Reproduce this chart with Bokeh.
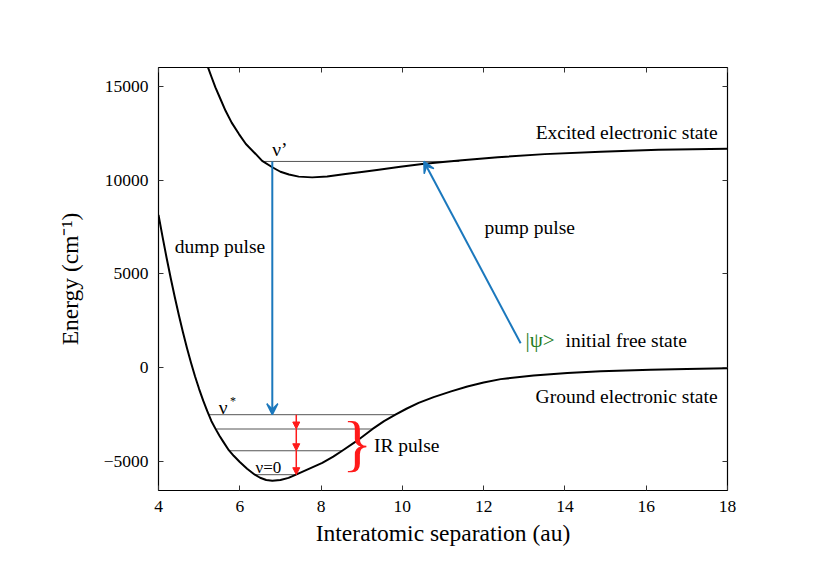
from bokeh.plotting import figure
from bokeh.models import LinearAxis, FixedTicker, Arrow, VeeHead, NormalHead, ColumnDataSource, Range1d
from bokeh.core.properties import value
from bokeh.embed import file_html
from bokeh.resources import INLINE

# ---- data ----
ground_r = [4.00, 4.10, 4.20, 4.30, 4.40, 4.50, 4.60, 4.70, 4.80, 4.90, 5.00, 5.10, 5.20,
            5.30, 5.40, 5.50, 5.60, 5.73, 5.85, 6.00, 6.18, 6.37, 6.50, 6.65, 6.80,
            7.00, 7.20, 7.37, 7.70, 8.03, 8.30, 8.52, 8.87, 9.26, 9.55, 9.83, 10.10,
            10.40, 10.77, 11.20, 11.60, 12.00, 12.42, 13.23, 14.06, 14.88, 15.50,
            16.11, 17.00, 18.00]
ground_e = [8150, 6980, 5850, 4780, 3770, 2810, 1900, 1050, 260, -470, -1140, -1760, -2320,
            -2840, -3250, -3630, -3970, -4400, -4700, -5030, -5390, -5707, -5870, -5990, -6030,
            -5990, -5875, -5715, -5400, -5080, -4745, -4430, -3920, -3280, -2850, -2507, -2190,
            -1880, -1570, -1265, -1000, -790, -610, -420, -285, -195, -145,
            -105, -65, -35]

excited_r = [5.15, 5.22, 5.30, 5.40, 5.50, 5.65, 5.80, 5.98, 6.15, 6.39, 6.55, 6.80, 7.00,
             7.21, 7.45, 7.78, 8.15, 8.60, 9.00, 9.42, 9.95, 10.49, 11.00, 11.47, 12.35,
             13.50, 14.88, 16.30, 18.00]
excited_e = [16430, 16000, 15530, 14950, 14450, 13700, 13070, 12460, 11930, 11400, 11030, 10690, 10450,
             10300, 10190, 10150, 10200, 10330, 10440, 10560, 10715, 10860, 10965, 11060, 11220,
             11390, 11520, 11620, 11680]

levels_e = [-2507, -3270, -4430, -5707]
levels_r0 = [5.23, 5.41, 5.73, 6.37]
levels_r1 = [9.83, 9.26, 8.52, 7.37]

vprime_e = [11000]
vprime_r0 = [6.55]
vprime_r1 = [11.40]

dump_r = [6.80, 6.80]
dump_e = [11000, -2507]
pump_r = [12.91, 10.53]
pump_e = [1300, 11000]

ir_r = [7.39, 7.39, 7.39]
ir_e_start = [-2507, -3270, -4430]
ir_e_end = [-3270, -4430, -5707]

x_ticks = [4, 6, 8, 10, 12, 14, 16, 18]
y_ticks = [-5000, 0, 5000, 10000, 15000]
y_tick_labels = {-5000: "\u22125000", 0: "0", 5000: "5000", 10000: "10000", 15000: "15000"}

SERIF = "Liberation Serif"
BLUE = "#1b78bd"
RED = "#ff1a1a"
GREEN = "#1e7b1e"
GRAY = "#555555"

p = figure(width=830, height=587, x_range=Range1d(4, 18), y_range=Range1d(-6550, 16010),
           output_backend="svg", toolbar_location=None,
           min_border_left=158, min_border_right=103, min_border_top=67, min_border_bottom=97)
p.grid.visible = False
p.background_fill_color = "white"
p.border_fill_color = "white"
p.outline_line_color = "black"
p.outline_line_width = 1.2

for ax, tk in ((p.xaxis[0], x_ticks), (p.yaxis[0], y_ticks)):
    ax.ticker = FixedTicker(ticks=tk)
    ax.major_tick_in = 5
    ax.major_tick_out = 0
    ax.minor_tick_line_color = None
    ax.axis_line_color = None
    ax.major_tick_line_color = "#333333"
    ax.major_label_text_font = SERIF
    ax.major_label_text_font_size = "17.5px"
    ax.major_label_text_color = "black"
    ax.axis_label_text_font = SERIF
    ax.axis_label_text_font_size = "23.5px"
    ax.axis_label_text_font_style = "normal"
    ax.axis_label_text_color = "black"

p.xaxis.axis_label = "Interatomic separation (au)"
p.yaxis.axis_label = "Energy (cm\u207b\u00b9)"
p.yaxis.major_label_overrides = y_tick_labels
p.xaxis.major_label_standoff = 10
p.yaxis.major_label_standoff = 10
p.xaxis.axis_label_standoff = 5
p.yaxis.axis_label_standoff = 18

top_ax = LinearAxis(ticker=FixedTicker(ticks=x_ticks), major_tick_in=5, major_tick_out=0,
                    minor_tick_line_color=None, axis_line_color=None, major_tick_line_color="#333333",
                    major_label_overrides={t: "" for t in x_ticks}, major_label_text_font_size="1px")
right_ax = LinearAxis(ticker=FixedTicker(ticks=y_ticks), major_tick_in=5, major_tick_out=0,
                      minor_tick_line_color=None, axis_line_color=None, major_tick_line_color="#333333",
                      major_label_overrides={t: "" for t in y_ticks}, major_label_text_font_size="1px")
p.add_layout(top_ax, "above")
p.add_layout(right_ax, "right")

# vibrational levels
p.segment(x0=levels_r0, y0=levels_e, x1=levels_r1, y1=levels_e, line_color=GRAY, line_width=1)
p.segment(x0=vprime_r0, y0=vprime_e, x1=vprime_r1, y1=vprime_e, line_color=GRAY, line_width=1)

# potential curves
p.line(ground_r, ground_e, line_color="black", line_width=2, line_join="round")
p.line(excited_r, excited_e, line_color="black", line_width=2, line_join="round")

# arrows
p.add_layout(Arrow(x_start=dump_r[0], y_start=dump_e[0], x_end=dump_r[1], y_end=dump_e[1],
                   line_color=BLUE, line_width=2,
                   end=VeeHead(size=11, fill_color=BLUE, line_color=BLUE, line_width=1.5)))
p.add_layout(Arrow(x_start=pump_r[0], y_start=pump_e[0], x_end=pump_r[1], y_end=pump_e[1],
                   line_color=BLUE, line_width=2,
                   end=VeeHead(size=11, fill_color=BLUE, line_color=BLUE, line_width=1.5)))
ir_src = ColumnDataSource(dict(xs=ir_r, ys=ir_e_start, xe=ir_r, ye=ir_e_end))
p.add_layout(Arrow(x_start="xs", y_start="ys", x_end="xe", y_end="ye", source=ir_src,
                   line_color=RED, line_width=1.5,
                   end=NormalHead(size=7, fill_color=RED, line_color=RED, line_width=1)))

# texts
F = value(SERIF)
p.text(x=[17.755, 17.755], y=[12560, -1529], text=["Excited electronic state", "Ground electronic state"],
       text_font=F, text_font_size=value("19.5px"), text_align="right", text_baseline="alphabetic",
       text_color="black")
p.text(x=[4.40, 12.02, 14.015, 9.30], y=[6470, 7493, 1456, -4142],
       text=["dump pulse", "pump pulse", "initial free state", "IR pulse"],
       text_font=F, text_font_size=value("19.5px"), text_align="left", text_baseline="alphabetic",
       text_color="black")
p.text(x=[13.03], y=[1456], text=["|\u03c8>"], text_font=F, text_font_size=value("21px"),
       text_align="left", text_baseline="alphabetic", text_color=GREEN)
p.text(x=[6.80, 5.48], y=[11627, -2117], text=["\u03bd\u2019", "\u03bd"], text_font=F,
       text_font_size=value("19.5px"), text_align="left", text_baseline="alphabetic", text_color="black")
p.text(x=[5.83], y=[-1760], text=["*"], text_font=F, text_font_size=value("12px"),
       text_align="center", text_baseline="middle", text_color="black")
p.text(x=[6.387], y=[-5317], text=["\u03bd=0"], text_font=F, text_font_size=value("17px"),
       text_align="left", text_baseline="alphabetic", text_color="black")
p.text(x=[8.89], y=[-4021], text=["}"], text_font=F, text_font_size=value("62px"),
       text_align="center", text_baseline="alphabetic", text_color=RED)

open("out.html", "w").write(file_html(p, INLINE))
